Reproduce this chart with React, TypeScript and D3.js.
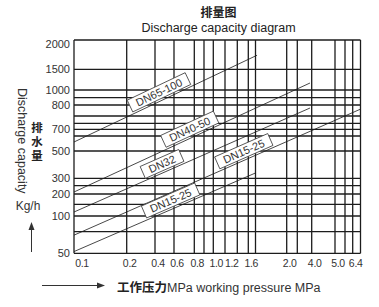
import React, { useLayoutEffect, useRef } from "react";
import * as d3 from "d3";

// vertical grid lines (working pressure, MPa)
const pressureGrid = [0.1, 0.2, 0.4, 0.6, 0.8, 0.9, 1.0, 1.2, 1.4, 1.6, 1.8, 2.0, 3.0, 4.0, 5.0, 5.6, 6.4, 7.0];
const pressureTicks = ["0.1", "0.2", "0.4", "0.6", "0.8", "1.0", "1.2", "1.6", "2.0", "4.0", "5.0", "6.4"];
// horizontal grid lines (discharge capacity, kg/h)
const capacityGrid = [50, 75, 100, 150, 200, 250, 300, 500, 600, 700, 730, 760, 800, 900, 1000, 1500, 2000];
const capacityTicks = [2000, 1500, 1000, 800, 700, 500, 300, 200, 100, 50];

// series lines
const seriesNames = ["DN65-100", "DN40-50", "DN32", "DN15-25", "DN15-25"];
const startPressure = [0.1, 0.1, 0.1, 0.1, 0.1];
const startCapacity = [560, 212, 117, 71, 52];
const endPressure = [1.81, 3.88, 3.88, 7.0, 1.8];
const endCapacity = [1740, 1169, 789, 785, 339];
const labelPressure = [0.48, 0.79, 0.51, 1.58, 0.6];

const W = 379;
const H = 307;
const LATIN = "'Liberation Sans', Arial, sans-serif";
const CJK = "'Noto Sans CJK SC', sans-serif";

export default function App() {
  const ref = useRef<SVGSVGElement>(null);

  const x = d3
    .scaleLinear()
    .domain(pressureGrid)
    .range([74, 126.7, 155, 174, 194.3, 204, 213.3, 225, 237.3, 248.3, 255.5, 286.7, 297.3, 311.7, 335, 345, 352.7, 360.5]);
  const y = d3
    .scaleLinear()
    .domain(capacityGrid)
    .range([253.3, 231.7, 216, 204.3, 194, 185.7, 178.3, 151, 136, 129.3, 123.3, 116, 105, 97.7, 90, 69.3, 40]);

  const left = x(pressureGrid[0]);
  const right = x(pressureGrid[pressureGrid.length - 1]);
  const top = y(capacityGrid[capacityGrid.length - 1]);
  const bottom = y(capacityGrid[0]);

  const lines = seriesNames.map((name, i) => {
    const x0 = x(startPressure[i]);
    const y0 = y(startCapacity[i]);
    const x1 = x(endPressure[i]);
    const y1 = y(endCapacity[i]);
    const lx = x(labelPressure[i]);
    const ly = y0 + ((lx - x0) / (x1 - x0)) * (y1 - y0);
    const angle = (Math.atan2(y1 - y0, x1 - x0) * 180) / Math.PI;
    return { name, x0, y0, x1, y1, lx, ly, angle };
  });

  // x tick label positions, nudged right so neighbours do not collide
  const tickPos: number[] = [];
  pressureTicks.forEach((s, i) => {
    let p = Math.max(x(+s) + 3, left + 8);
    if (i > 0) p = Math.max(p, tickPos[i - 1] + 15.5);
    tickPos.push(p);
  });

  useLayoutEffect(() => {
    if (!ref.current) return;
    d3.select(ref.current)
      .selectAll<SVGGElement, unknown>("g.lbl")
      .each(function () {
        const g = d3.select(this);
        const t = g.select<SVGTextElement>("text").node();
        if (!t) return;
        const w = t.getComputedTextLength() + 14;
        g.select("rect").attr("x", -w / 2).attr("width", w);
      });
  }, []);

  const line = d3.line();

  return (
    <svg
      ref={ref}
      width={W}
      height={H}
      style={{ position: "absolute", left: 0, top: 0, background: "#fff" }}
    >
      {/* title */}
      <text x={218.5} y={17} textAnchor="middle" fontFamily={CJK} fontSize={12} fontWeight="bold" fill="#222">
        排量图
      </text>
      <text x={218.5} y={31.5} textAnchor="middle" fontFamily={LATIN} fontSize={12.5} fill="#222">
        Discharge capacity diagram
      </text>

      {/* series lines */}
      {lines.map((l, i) => (
        <path
          key={"s" + i}
          d={line([[l.x0, l.y0], [l.x1, l.y1]]) || ""}
          stroke="#333"
          strokeWidth={0.9}
          fill="none"
        />
      ))}

      {/* grid */}
      {capacityGrid.map((v) => (
        <line key={"h" + v} x1={left} x2={right} y1={y(v)} y2={y(v)} stroke="#1c1c1c" strokeWidth={1.3} />
      ))}
      {pressureGrid.map((v) => (
        <line key={"v" + v} x1={x(v)} x2={x(v)} y1={top} y2={bottom} stroke="#1c1c1c" strokeWidth={1.3} />
      ))}

      {/* series labels */}
      {lines.map((l, i) => (
        <g key={"l" + i} className="lbl" transform={`translate(${l.lx},${l.ly}) rotate(${l.angle}) translate(0,-8.5)`}>
          <rect x={-30} y={-6.5} width={60} height={13} fill="#fff" stroke="#444" strokeWidth={0.8} />
          <text x={0} y={0} dy="0.36em" textAnchor="middle" fontFamily={LATIN} fontSize={11} fill="#333">
            {l.name}
          </text>
        </g>
      ))}

      {/* y ticks */}
      {capacityTicks.map((v) => (
        <text
          key={"yt" + v}
          x={70}
          y={Math.max(y(v), top + 4)}
          dy="0.36em"
          textAnchor="end"
          fontFamily={LATIN}
          fontSize={11}
          fill="#333"
        >
          {v}
        </text>
      ))}

      {/* x ticks */}
      {pressureTicks.map((s, i) => (
        <text
          key={"xt" + s}
          x={tickPos[i]}
          y={267}
          textAnchor="middle"
          fontFamily={LATIN}
          fontSize={10.5}
          letterSpacing={-0.3}
          fill="#333"
        >
          {s}
        </text>
      ))}

      {/* y axis title */}
      <text
        transform="translate(18,88) rotate(90)"
        fontFamily={LATIN}
        fontSize={12.5}
        fill="#333"
      >
        Discharge capacity
      </text>
      <text
        x={37}
        y={122}
        writingMode="vertical-rl"
        letterSpacing={2.5}
        fontFamily={CJK}
        fontSize={11.5}
        fontWeight="bold"
        fill="#222"
      >
        排水量
      </text>
      <text x={28} y={209.5} textAnchor="middle" fontFamily={LATIN} fontSize={12} fill="#333">
        Kg/h
      </text>
      <line x1={31.5} x2={31.5} y1={252} y2={229} stroke="#333" strokeWidth={1} />
      <path d="M31.5,222 L28.5,230 L34.5,230 Z" fill="#333" />

      {/* x axis title */}
      <line x1={42} x2={98} y1={285.5} y2={285.5} stroke="#333" strokeWidth={1} />
      <path d="M105,285.5 L97,282.5 L97,288.5 Z" fill="#333" />
      <text x={117} y={291.5} fontSize={12.5} fill="#222">
        <tspan fontFamily={CJK} fontWeight="bold">工作压力</tspan>
        <tspan fontFamily={LATIN} fill="#333">MPa working pressure MPa</tspan>
      </text>
    </svg>
  );
}
